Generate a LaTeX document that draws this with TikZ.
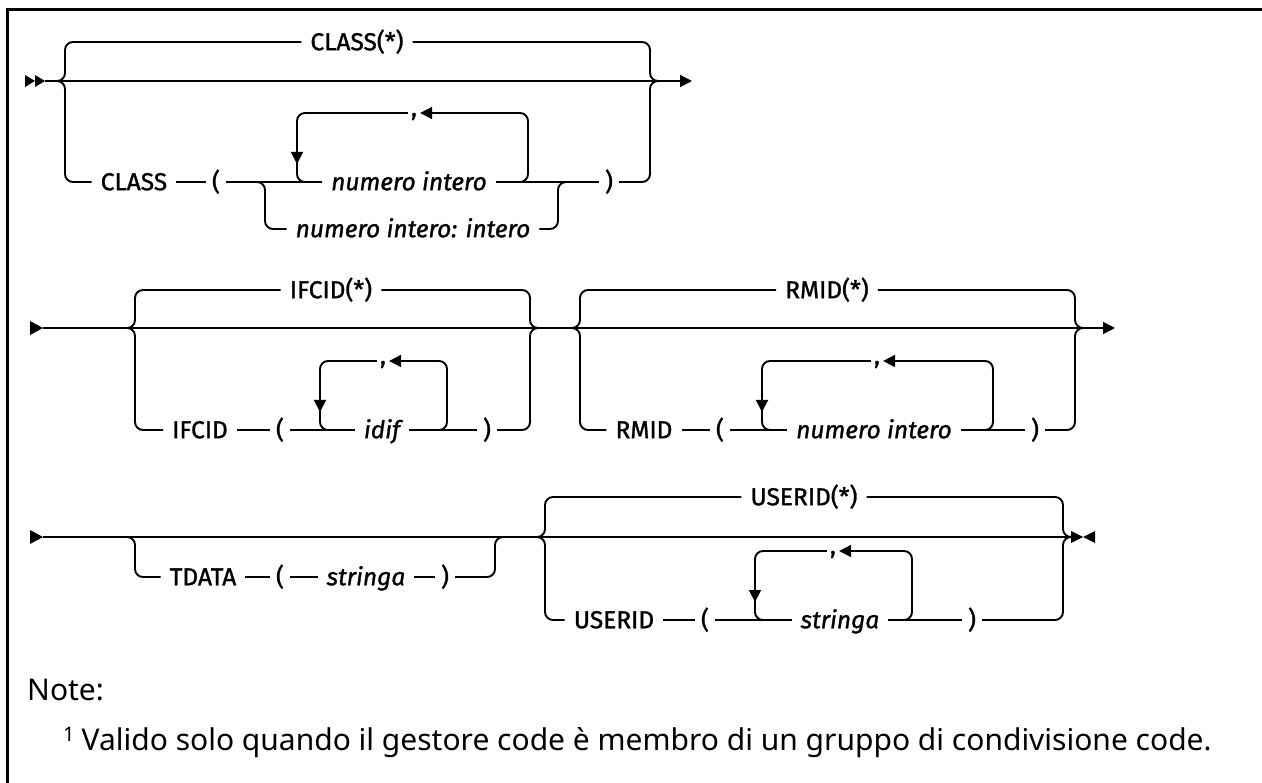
\documentclass[tikz,border=0pt]{standalone}
\usepackage{fontspec}
\setmainfont{Noto Sans}
\newfontfamily\kwfam[FakeBold=1.2]{Fira Sans}
\newcommand\rrkw{\kwfam\fontsize{24.5}{28}\selectfont}
\newcommand\rrvar{\kwfam\itshape\fontsize{24.5}{28}\selectfont}
\usetikzlibrary{arrows.meta}
\begin{document}
\begin{tikzpicture}[x=1pt,y=-1pt,
  rail/.style={line width=1.9pt, rounded corners=8pt},
  railtip/.style={-{Triangle[length=12pt,width=12pt]}},
  kwnode/.style={font=\rrkw, inner xsep=9pt, inner ysep=0pt, text height=16.5pt, text depth=0pt},
  varnode/.style={kwnode, font=\rrvar},
  parnode/.style={kwnode, inner xsep=6pt},
  commanode/.style={kwnode, inner xsep=3pt, text height=6pt},
  notetext/.style={font=\fontsize{30}{34}\selectfont, inner sep=0pt, anchor=base west},
]
\useasboundingbox (0,0) rectangle (1262,783);
% frame
\draw[line width=3pt] (7,783) -- (7,10) -- (1262,10);

% ---------------- CLASS ----------------
\fill (25,75) -- (35,81) -- (25,87) -- cycle;
\fill (35,75) -- (45,81) -- (35,87) -- cycle;
\coordinate (a0) at (45,81);
\coordinate (a1) at (57,81);
\coordinate (a2) at (658,81);
\coordinate (a3) at (692,81);
\coordinate (b1) at (257,182);
\coordinate (b2) at (566,182);
\node[kwnode] (cstar) at (357,42) {CLASS(*)};
\node[kwnode] (ckw) at (134,182) {CLASS};
\node[parnode] (clp) at (216,182) {(};
\node[varnode] (cnum) at (409,182) {numero intero};
\node[parnode] (crp) at (609,182) {)};
\node[commanode] (ccm) at (414,113) {,};
\node[varnode] (crange) at (413,229) {numero intero: intero};

\draw[rail] (a0) -- (a2);
\draw[rail,railtip] (a2) -- (a3);
\draw[rail] (a1) -- (65,81) -- (65,42) -- (cstar);
\draw[rail] (cstar) -- (650,42) -- (650,81) -- (a2);
\draw[rail] (a1) -- (65,81) -- (65,182) -- (ckw);
\draw[rail] (ckw) -- (clp) -- (b1) -- (cnum);
\draw[rail] (cnum) -- (b2) -- (crp);
\draw[rail] (crp) -- (650,182) -- (650,81) -- (a2);
\draw[rail] (b1) -- (265,182) -- (265,229) -- (crange);
\draw[rail] (crange) -- (558,229) -- (558,182) -- (b2);
% repeat loop
\draw[rail] (ccm) -- (297,113) -- (297,182) -- (315,182);
\draw[rail,railtip] (297,140) -- (297,164);
\draw[rail,railtip] (515,182) -- (528,182) -- (528,113) -- (ccm);

% ---------------- IFCID / RMID ----------------
\fill (30,321) -- (43,328) -- (30,335) -- cycle;
\coordinate (d0) at (43,328);
\coordinate (d1) at (127,328);
\coordinate (d2) at (538,328);
\coordinate (d3) at (572,328);
\coordinate (d4) at (1083,328);
\coordinate (d5) at (1115,328);
\draw[rail] (d0) -- (d4);
\draw[rail,railtip] (d4) -- (d5);

\node[kwnode] (istar) at (331,290) {IFCID(*)};
\node[kwnode] (ikw) at (200,430) {IFCID};
\node[parnode] (ilp) at (280,430) {(};
\node[varnode] (iid) at (382,430) {idif};
\node[parnode] (irp) at (487,430) {)};
\node[commanode] (icm) at (383,361) {,};
\draw[rail] (d1) -- (135,328) -- (135,290) -- (istar);
\draw[rail] (istar) -- (530,290) -- (530,328) -- (d2);
\draw[rail] (d1) -- (135,328) -- (135,430) -- (ikw);
\draw[rail] (ikw) -- (ilp) -- (iid) -- (irp);
\draw[rail] (irp) -- (530,430) -- (530,328) -- (d2);
\draw[rail] (icm) -- (320,361) -- (320,430) -- (338,430);
\draw[rail,railtip] (320,388) -- (320,412);
\draw[rail,railtip] (435,430) -- (447,430) -- (447,361) -- (icm);

\node[kwnode] (rstar) at (827,290) {RMID(*)};
\node[kwnode] (rkw) at (644,430) {RMID};
\node[parnode] (rlp) at (720,430) {(};
\node[varnode] (rnum) at (874,430) {numero intero};
\node[parnode] (rrp) at (1035,430) {)};
\node[commanode] (rcm) at (877,361) {,};
\draw[rail] (d3) -- (580,328) -- (580,290) -- (rstar);
\draw[rail] (rstar) -- (1075,290) -- (1075,328) -- (d4);
\draw[rail] (d3) -- (580,328) -- (580,430) -- (rkw);
\draw[rail] (rkw) -- (rlp) -- (rnum) -- (rrp);
\draw[rail] (rrp) -- (1075,430) -- (1075,328) -- (d4);
\draw[rail] (rcm) -- (762,361) -- (762,430) -- (780,430);
\draw[rail,railtip] (762,388) -- (762,412);
\draw[rail,railtip] (980,430) -- (993,430) -- (993,361) -- (rcm);

% ---------------- TDATA / USERID ----------------
\fill (30,530) -- (43,537) -- (30,544) -- cycle;
\coordinate (e0) at (43,537);
\coordinate (e1) at (127,537);
\coordinate (e2) at (503,537);
\coordinate (e3) at (537,537);
\coordinate (e4) at (1071,537);
\draw[rail] (e0) -- (e4);

\node[kwnode] (tkw) at (203,577) {TDATA};
\node[parnode] (tlp) at (280,577) {(};
\node[varnode] (tstr) at (366,577) {stringa};
\node[parnode] (trp) at (445,577) {)};
\draw[rail] (e1) -- (135,537) -- (135,577) -- (tkw);
\draw[rail] (tkw) -- (tlp) -- (tstr) -- (trp);
\draw[rail] (trp) -- (495,577) -- (495,537) -- (e2);

\node[kwnode] (ustar) at (804,497) {USERID(*)};
\node[kwnode] (ukw) at (614,620) {USERID};
\node[parnode] (ulp) at (705,620) {(};
\node[varnode] (ustr) at (840,620) {stringa};
\node[parnode] (urp) at (972,620) {)};
\node[commanode] (ucm) at (833,551) {,};
\draw[rail] (e3) -- (545,537) -- (545,497) -- (ustar);
\draw[rail] (ustar) -- (1063,497) -- (1063,537) -- (e4);
\draw[rail] (e3) -- (545,537) -- (545,620) -- (ukw);
\draw[rail] (ukw) -- (ulp) -- (ustr) -- (urp);
\draw[rail] (urp) -- (1063,620) -- (1063,537) -- (e4);
\draw[rail] (ucm) -- (755,551) -- (755,620) -- (772,620);
\draw[rail,railtip] (755,578) -- (755,602);
\draw[rail,railtip] (900,620) -- (912,620) -- (912,551) -- (ucm);
% end mark
\fill (1071,531) -- (1083,537) -- (1071,543) -- cycle;
\fill (1095,531) -- (1083,537) -- (1095,543) -- cycle;

% ---------------- notes ----------------
\node[notetext] (note) at (27,700) {Note:};
\node[notetext] (fn) at (63,750) {\raisebox{9pt}{\fontsize{20}{22}\selectfont 1}\hspace{7pt}Valido solo quando il gestore code è membro di un gruppo di condivisione code.};
\end{tikzpicture}
\end{document}
